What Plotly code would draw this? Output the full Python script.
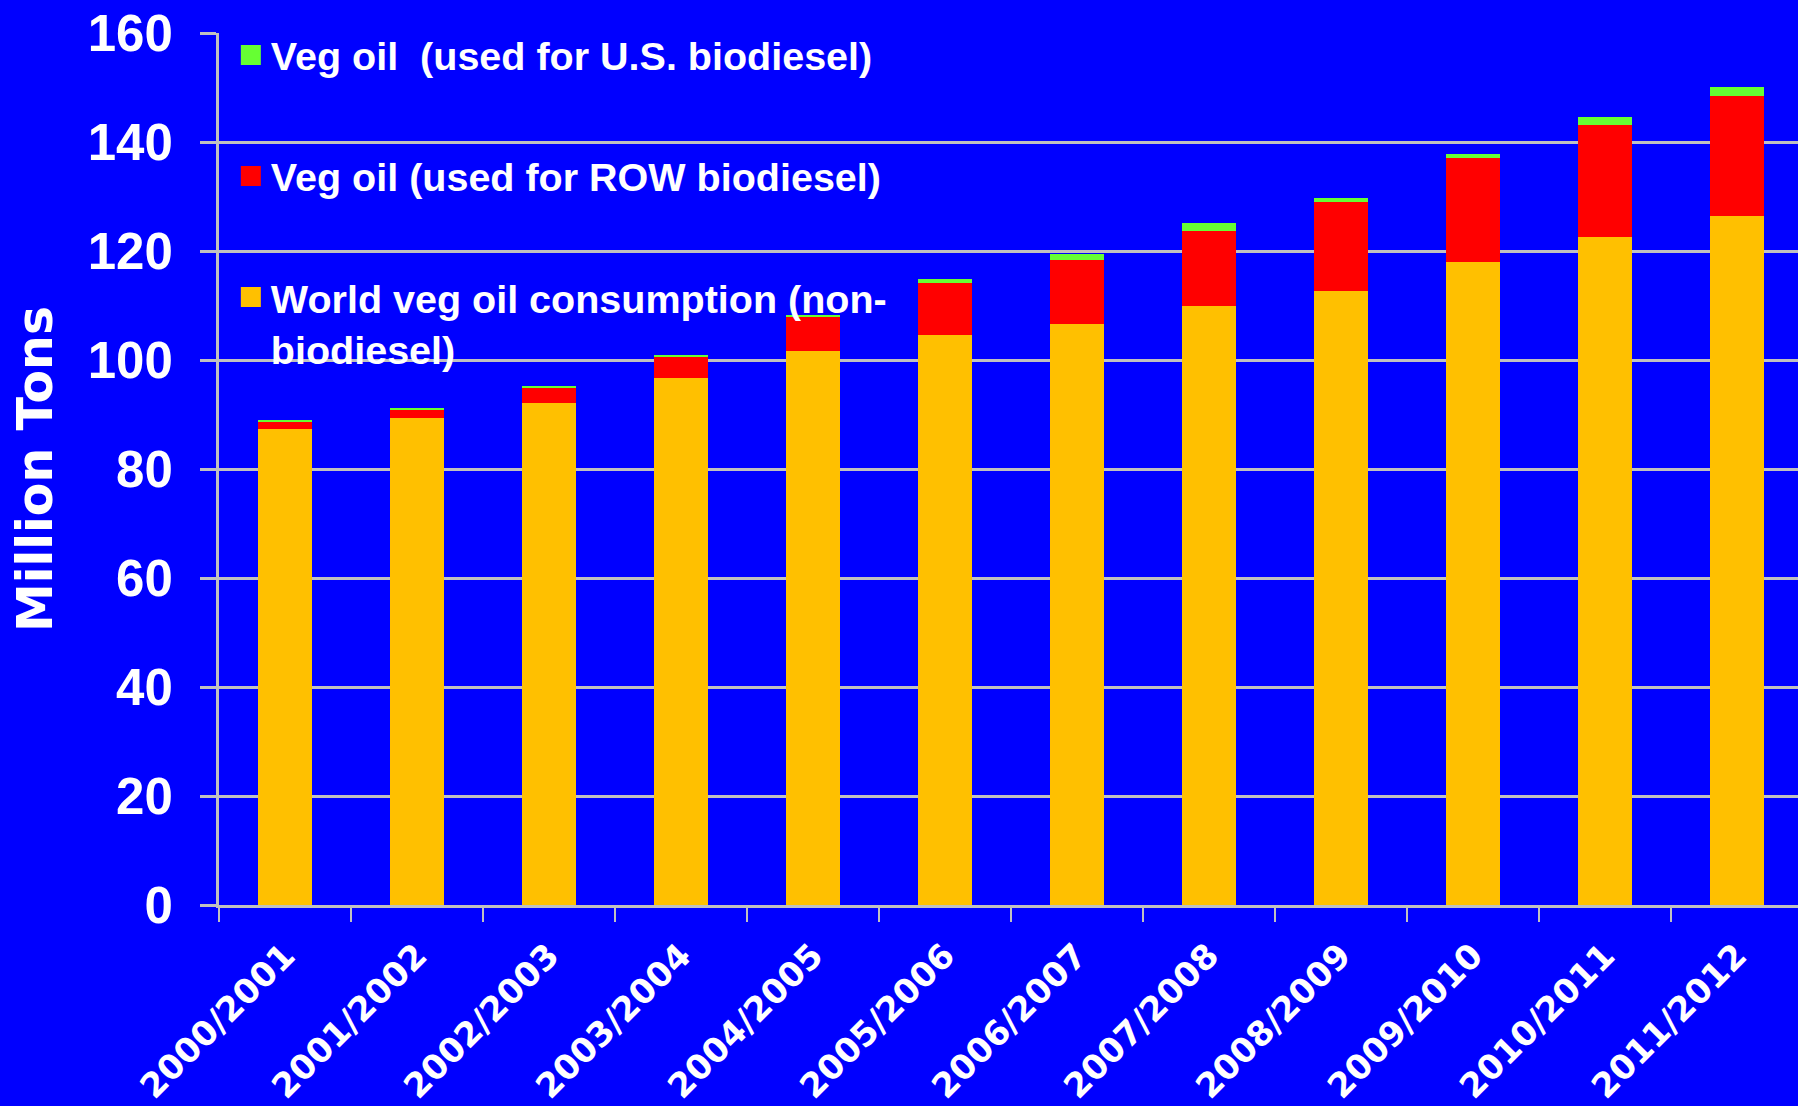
import plotly.graph_objects as go

seasons = ["2000/2001", "2001/2002", "2002/2003", "2003/2004", "2004/2005", "2005/2006",
           "2006/2007", "2007/2008", "2008/2009", "2009/2010", "2010/2011", "2011/2012"]
world_non_biodiesel = [87.3, 89.4, 92.2, 96.7, 101.6, 104.6, 106.6, 109.9, 112.7, 118.0, 122.6, 126.5]
row_biodiesel = [1.4, 1.6, 2.8, 4.0, 6.4, 9.5, 11.7, 13.8, 16.2, 19.1, 20.6, 21.9]
us_biodiesel = [0.2, 0.2, 0.3, 0.2, 0.3, 0.8, 1.2, 1.4, 0.9, 0.7, 1.3, 1.7]

y_ticks = [0, 20, 40, 60, 80, 100, 120, 140, 160]

series = [
    ("World veg oil consumption (non-<br>biodiesel)", world_non_biodiesel, "#FFC000", "legend3"),
    ("Veg oil (used for ROW biodiesel)", row_biodiesel, "#FF0000", "legend2"),
    ("Veg oil\u00a0 (used for U.S. biodiesel)", us_biodiesel, "#66FF33", "legend"),
]

BLUE = "#0000FF"
GRID = "#C0C0C0"
FONT = "Liberation Sans, Arial, sans-serif"

fig = go.Figure()
for name, vals, color, leg in series:
    fig.add_trace(go.Bar(x=seasons, y=vals, name=name, showlegend=False,
                         marker=dict(color=color, line=dict(width=0))))
    # legend entry with a bigger square swatch
    fig.add_trace(go.Scatter(x=[None], y=[None], mode="markers", name=name, legend=leg,
                             marker=dict(symbol="square", size=20, color=color,
                                         line=dict(color=color, width=4))))

legend_style = dict(
    font=dict(family=FONT, size=39.5, color="white", weight="bold"),
    bgcolor="rgba(0,0,0,0)", xanchor="left", yanchor="middle", x=0.0075,
    itemclick=False, itemdoubleclick=False,
)

fig.update_layout(
    showlegend=True,
    barmode="stack",
    bargap=0.59,
    width=1798, height=1106,
    paper_bgcolor=BLUE, plot_bgcolor=BLUE,
    margin=dict(l=219, r=0, t=33, b=201),
    font=dict(family=FONT, color="white"),
    legend=dict(**legend_style, y=0.9745),
    legend2=dict(**legend_style, y=0.8357),
    legend3=dict(**legend_style, y=0.6675, valign="top"),
    xaxis=dict(
        range=[-0.5, 11.465],
        tickangle=-45,
        tickfont=dict(family="DejaVu Sans, sans-serif", size=34, color="white", weight="bold"),
        showline=True, linecolor=GRID, linewidth=3,
        ticks="outside", tickson="boundaries", ticklen=14, tickwidth=2, tickcolor=GRID,
        showgrid=False,
        ticklabelstandoff=14,
        automargin=False,
    ),
    yaxis=dict(
        range=[0, 160],
        tickvals=y_ticks,
        tickfont=dict(family=FONT, size=51, color="white", weight="bold"),
        showline=True, linecolor=GRID, linewidth=3,
        ticks="outside", ticklen=16, tickwidth=3, tickcolor=GRID,
        showgrid=True, gridcolor=GRID, gridwidth=3,
        zeroline=False,
        ticklabelstandoff=17,
        automargin=False,
        title=dict(text="Million Tons", standoff=20,
                   font=dict(family="DejaVu Sans, sans-serif", size=49, color="white", weight="bold")),
    ),
)

fig.write_html("out.html", config={"displayModeBar": False},
               post_script="document.body.style.margin='0';document.body.style.background='#0000FF';")
